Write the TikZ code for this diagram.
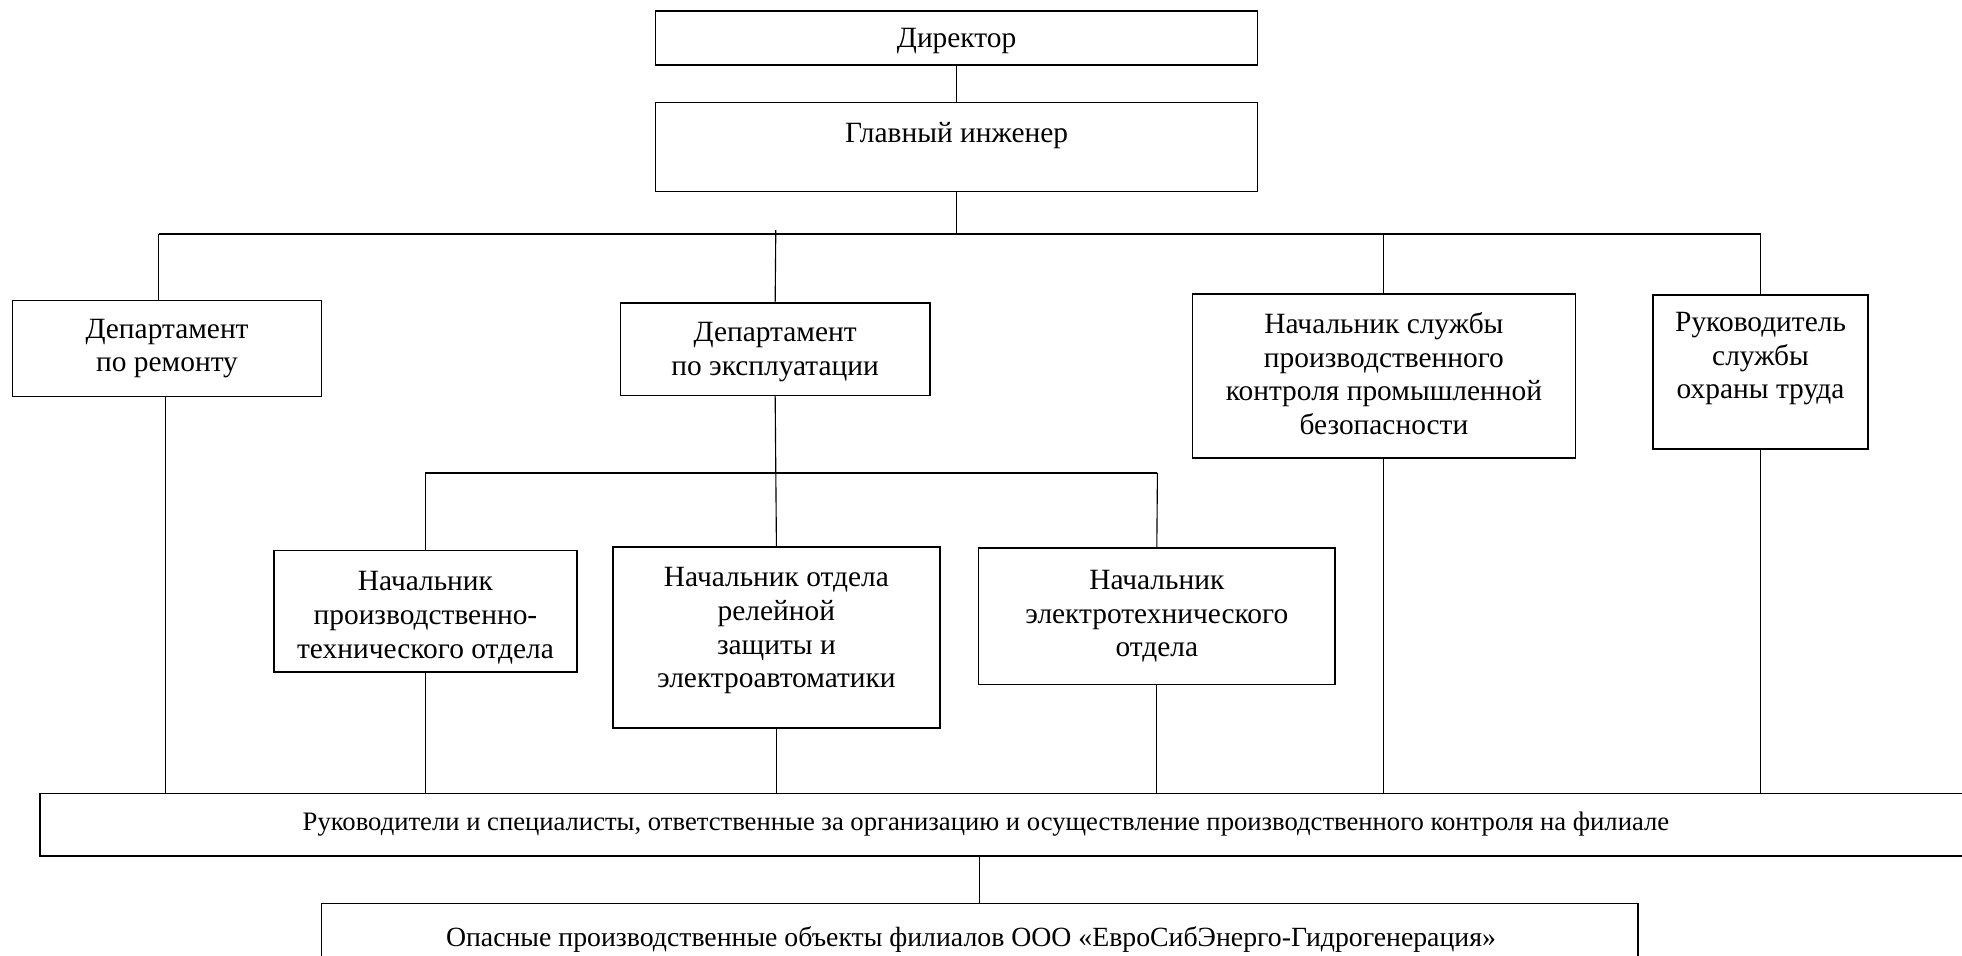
\documentclass[tikz,border=0pt]{standalone}
\usepackage{fontspec}
\setmainfont{Liberation Serif}
\begin{document}
\begin{tikzpicture}[x=1pt,y=-1pt,
  box/.style={draw, line width=1.3pt, inner sep=0pt, align=center,
    font=\fontsize{23.5}{27}\selectfont},
  lbl/.style={inner sep=0pt, align=center, font=\fontsize{23.5}{27}\selectfont},
  conn/.style={line width=0.9pt}]
\useasboundingbox (0,0) rectangle (1568,764);
% boxes
\node[box, minimum width=481, minimum height=43, text depth=0pt] (dir) at (764.5,30.5) {Директор};
\node[box, minimum width=481, minimum height=71] (glav) at (764.5,117.5) {Главный инженер\\[-3pt]\mbox{}};
\node[box, minimum width=247, minimum height=77] (drem) at (133.5,278.5) {Департамент\\по ремонту};
\node[box, minimum width=247, minimum height=74,
  label={[lbl, yshift=-2.5pt]center:{Департамент\\по эксплуатации}}] (dexp) at (619.5,279) {};
\node[box, minimum width=306, minimum height=131] (npk) at (1106,300.5) {Начальник службы\\производственного\\контроля промышленной\\безопасности\\[-23pt]\mbox{}};
\node[box, minimum width=172, minimum height=123] (ruk) at (1407,297.5) {Руководитель\\службы\\охраны труда\\\mbox{}};
\node[box, minimum width=242, minimum height=97,
  label={[lbl, yshift=-5pt]center:{Начальник\\производственно-\\технического отдела}}] (pto) at (340,488.5) {};
\node[box, minimum width=261, minimum height=145] (rza) at (620.5,509.5) {Начальник отдела\\релейной\\защиты и\\электроавтоматики\\[-11pt]\mbox{}};
\node[box, minimum width=285, minimum height=109] (eto) at (924.5,492.5) {Начальник\\электротехнического\\отдела};
\node[box, minimum width=1540, minimum height=50, font=\fontsize{21.3}{27}\selectfont] (big) at (802,659) {Руководители и специалисты, ответственные за организацию и осуществление производственного контроля на филиале\hspace*{28pt}};
\node[box, minimum width=1052, minimum height=58, font=\fontsize{22.2}{27}\selectfont] (obj) at (783,751) {Опасные производственные объекты филиалов ООО «ЕвроСибЭнерго-Гидрогенерация»\hspace*{14pt}};
% bus coordinates
\coordinate (busL) at (127,187);
\coordinate (busR) at (1407,187);
\coordinate (expTop) at (620,184);
\coordinate (sbL) at (340,378);
\coordinate (sbR) at (925,378);
\coordinate (dremB) at (132,317);
% connectors
\draw[conn] (dir.south) -- (glav.north);
\draw[conn] (glav.south) -- (glav.south |- busL);
\draw[conn] (busL) -- (busR);
\draw[conn] (busL) -- (busL |- drem.north);
\draw[conn] (expTop) -- (dexp.north);
\draw[conn] (npk.north |- busL) -- (npk.north);
\draw[conn] (busR) -- (ruk.north);
\draw[conn] (dexp.south) -- (rza.north);
\draw[conn] (sbL) -- (sbR);
\draw[conn] (sbL) -- (pto.north);
\draw[conn] (sbR) -- (eto.north);
\draw[conn] (dremB) -- (dremB |- big.north);
\draw[conn] (pto.south) -- (pto.south |- big.north);
\draw[conn] (rza.south) -- (rza.south |- big.north);
\draw[conn] (eto.south) -- (eto.south |- big.north);
\draw[conn] (npk.south) -- (npk.south |- big.north);
\draw[conn] (ruk.south) -- (ruk.south |- big.north);
\draw[conn] (obj.north) -- (obj.north |- big.south);
\end{tikzpicture}
\end{document}
